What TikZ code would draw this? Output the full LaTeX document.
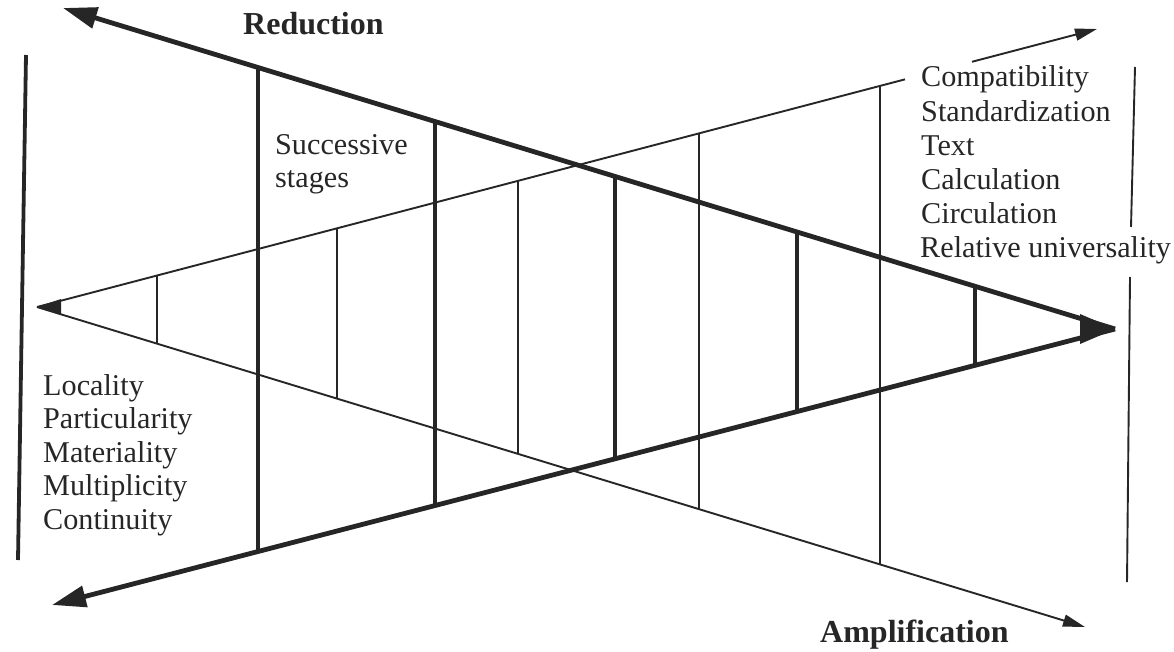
\documentclass[tikz,border=0pt]{standalone}
\usepackage{fontspec}
\setmainfont{Liberation Serif}
\usetikzlibrary{arrows.meta,calc}
\definecolor{ink}{RGB}{38,38,38}
\begin{document}
\begin{tikzpicture}[x=1pt,y=-1pt,
  heavy/.style={draw=ink,line width=4.8pt},
  heavystage/.style={draw=ink,line width=3.9pt},
  light/.style={draw=ink,line width=1.9pt},
  lightstage/.style={draw=ink,line width=1.9pt},
  bigtip/.style={-{Triangle[length=34pt,width=21pt]}},
  smalltip/.style={-{Triangle[length=22pt,width=12pt]}},
  txt/.style={anchor=base west,inner sep=0pt,text=ink,font=\fontsize{30.2}{34}\selectfont},
  head/.style={anchor=base west,inner sep=0pt,text=ink,font=\fontsize{32}{36}\selectfont\bfseries}]
\useasboundingbox (0,0) rectangle (1174,652);
% key points
\coordinate (A) at (63,8);
\coordinate (R) at (1115,329);
\coordinate (B) at (52,605);
\coordinate (L) at (37,307);
\coordinate (C) at (1097,29);
\coordinate (D) at (1085,627);
% thin wedge (amplification)
\coordinate (G1) at ($(L)!{(905-37)/1060}!(C)$);
\coordinate (G2) at ($(L)!{(972-37)/1060}!(C)$);
\draw[light] (L) -- (G1);
\draw[light,smalltip] (G2) -- (C);
\draw[light,smalltip] (L) -- (D);
\coordinate (La) at (61,299);
\coordinate (Lb) at (61,315);
\fill[ink] (L) -- (La) -- (Lb) -- cycle;
\foreach \x [count=\i] in {157,337,518,699,880}{
  \coordinate (tu\i) at ($(L)!{(\x-37)/1060}!(C)$);
  \coordinate (tl\i) at ($(L)!{(\x-37)/1048}!(D)$);
  \draw[lightstage] (tu\i) -- (tl\i);
}
% thick wedge (reduction)
\draw[heavy,bigtip] (R) -- (A);
\draw[heavy,bigtip] (R) -- (B);
\coordinate (Ra) at (1080,314);
\coordinate (Rb) at (1080,344);
\fill[ink] (R) -- (Ra) -- (Rb) -- cycle;
\foreach \x [count=\i] in {258,435,615,797,975}{
  \coordinate (hu\i) at ($(A)!{(\x-63)/1052}!(R)$);
  \coordinate (hl\i) at ($(B)!{(\x-52)/1063}!(R)$);
  \draw[heavystage] (hu\i) -- (hl\i);
}
% border lines
\coordinate (W1) at (26,55);
\coordinate (W2) at (18,560);
\draw[draw=ink,line width=3.8pt] (W1) -- (W2);
\coordinate (E1) at (1135,67);
\coordinate (E2) at (1131,227);
\coordinate (E3) at (1130,277);
\coordinate (E4) at (1127,582);
\draw[light] (E1) -- (E2);
\draw[light] (E3) -- (E4);
% labels
\node[head] (red) at (243,35) {Reduction};
\node[head] (amp) at (820,642) {Amplification};
\node[txt] (s1) at (275,155) {Successive};
\node[txt] (s2) at (275,188) {stages};
\node[txt] (r1) at (921,87) {Compatibility};
\node[txt] (r2) at (921,121.2) {Standardization};
\node[txt] (r3) at (921,155.4) {Text};
\node[txt] (r4) at (921,189.6) {Calculation};
\node[txt] (r5) at (921,223.8) {Circulation};
\node[txt] (r6) at (920,258) {Relative universality};
\node[txt] (l1) at (43,395) {Locality};
\node[txt] (l2) at (43,428.5) {Particularity};
\node[txt] (l3) at (43,462) {Materiality};
\node[txt] (l4) at (43,495.5) {Multiplicity};
\node[txt] (l5) at (43,529) {Continuity};
\end{tikzpicture}
\end{document}
